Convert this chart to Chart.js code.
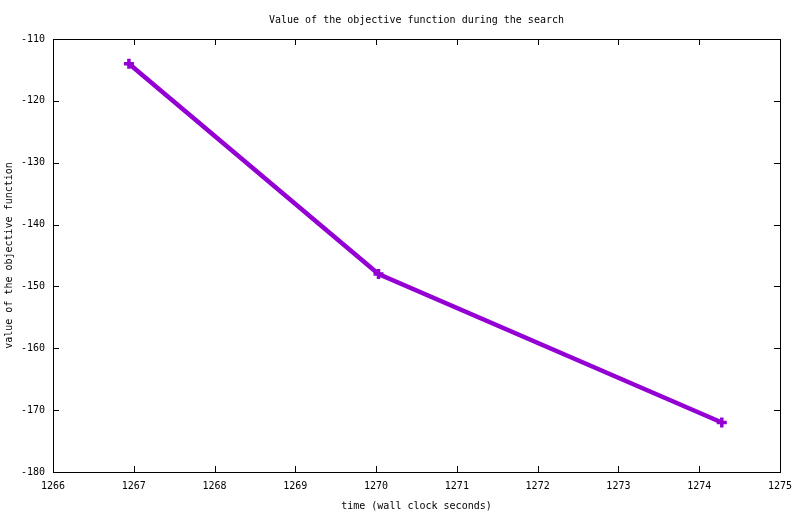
<!DOCTYPE html>
<html>
<head>
<meta charset="utf-8">
<script src="https://cdn.jsdelivr.net/npm/chart.js@4/dist/chart.umd.min.js"></script>
<style>
    html, body { margin: 0; padding: 0; background: #fff; }
    #wrap { width: 800px; height: 514px; }
</style>
</head>
<body>
<div id="wrap"><canvas id="objChart"></canvas></div>
<script>
// data
const times = [1266.94, 1270.03, 1274.28];
const objValues = [-114, -148, -172];
const xTicks = [1266, 1267, 1268, 1269, 1270, 1271, 1272, 1273, 1274, 1275];
const yTicks = [-180, -170, -160, -150, -140, -130, -120, -110];

const FONT = { family: "'DejaVu Sans Mono', monospace", size: 10 };
const INK = '#000';

// gnuplot-like frame with ticks pointing inward on all four sides
const frameTicks = {
    id: 'frameTicks',
    afterDraw(chart) {
        const { ctx, chartArea: a, scales } = chart;
        const len = 6;
        ctx.save();
        ctx.strokeStyle = INK;
        ctx.lineWidth = 1;
        ctx.beginPath();
        xTicks.forEach(v => {
            const px = Math.round(scales.x.getPixelForValue(v)) + 0.5;
            ctx.moveTo(px, a.bottom); ctx.lineTo(px, a.bottom - len);
            ctx.moveTo(px, a.top); ctx.lineTo(px, a.top + len);
        });
        yTicks.forEach(v => {
            const py = Math.round(scales.y.getPixelForValue(v)) + 0.5;
            ctx.moveTo(a.left, py); ctx.lineTo(a.left + len, py);
            ctx.moveTo(a.right, py); ctx.lineTo(a.right - len, py);
        });
        ctx.stroke();
        ctx.strokeRect(Math.round(a.left) + 0.5, Math.round(a.top) + 0.5,
            Math.round(a.right - a.left), Math.round(a.bottom - a.top));
        ctx.restore();
    }
};

const ctx = document.getElementById('objChart').getContext('2d');
new Chart(ctx, {
    type: 'line',
    data: {
        datasets: [{
            label: 'objective',
            data: times.map((t, i) => ({ x: t, y: objValues[i] })),
            borderColor: '#9400d3',
            backgroundColor: '#9400d3',
            borderWidth: 4.5,
            pointStyle: 'cross',
            pointRadius: 5,
            pointBorderWidth: 3.5,
            tension: 0,
        }],
    },
    options: {
        responsive: true,
        maintainAspectRatio: false,
        animation: false,
        layout: { padding: { left: 0, right: 19, top: 0, bottom: 0 } },
        scales: {
            x: {
                type: 'linear',
                min: 1266,
                max: 1275,
                afterBuildTicks: axis => { axis.ticks = xTicks.map(v => ({ value: v })); },
                afterFit: axis => { axis.height = 42; },
                grid: { display: false, drawTicks: false },
                border: { display: false },
                ticks: { font: FONT, color: INK, padding: 8, maxRotation: 0, callback: v => String(v) },
                title: { display: true, text: 'time (wall clock seconds)', font: FONT, color: INK, padding: { top: 0, bottom: 2 } },
            },
            y: {
                type: 'linear',
                min: -180,
                max: -110,
                afterBuildTicks: axis => { axis.ticks = yTicks.map(v => ({ value: v })); },
                afterFit: axis => { axis.width = 53; },
                grid: { display: false, drawTicks: false },
                border: { display: false },
                ticks: { font: FONT, color: INK, padding: 8, callback: v => String(v) },
                title: { display: true, text: 'value of the objective function', font: FONT, color: INK, padding: { top: 3, bottom: 0 } },
            },
        },
        plugins: {
            legend: { display: false },
            tooltip: { enabled: false },
            title: {
                display: true,
                fullSize: false,
                text: 'Value of the objective function during the search',
                font: { ...FONT, weight: 'normal' },
                color: INK,
                padding: { top: 14, bottom: 13 },
            },
        },
    },
    plugins: [frameTicks],
});
</script>
</body>
</html>
